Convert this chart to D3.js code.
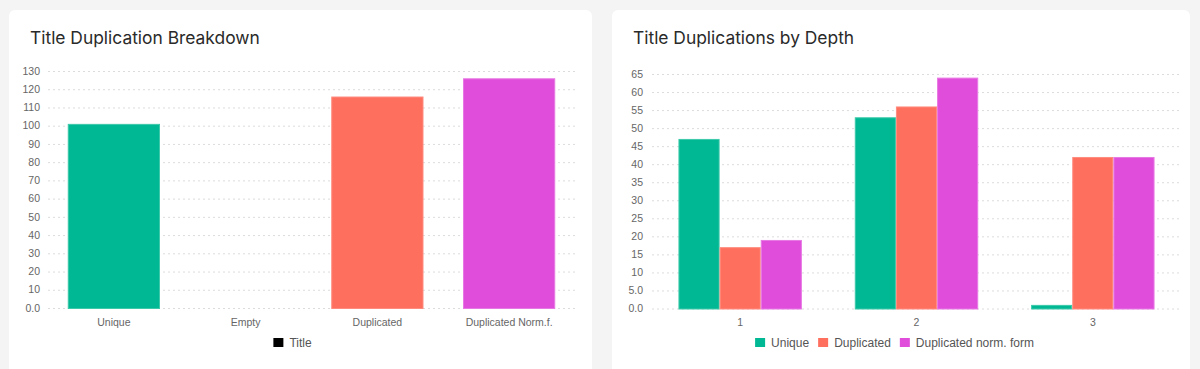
<!DOCTYPE html>
<html>
<head>
<meta charset="utf-8">
<script src="https://cdn.jsdelivr.net/npm/d3@7"></script>
<style>
	html, body { margin: 0; padding: 0; background: #f4f4f4; }
	svg { display: block; }
</style>
</head>
<body>
<div id="chart"></div>
<script>
// chart values
const breakdownLabels = ['Unique', 'Empty', 'Duplicated', 'Duplicated Norm.f.']
const breakdownValues = [101, 0, 116, 126]
const breakdownTicks = [0, 10, 20, 30, 40, 50, 60, 70, 80, 90, 100, 110, 120, 130]

const depths = ['1', '2', '3']
const uniqueByDepth = [47, 53, 1]
const duplicatedByDepth = [17, 56, 42]
const normFormByDepth = [19, 64, 42]
const depthSeries = ['Unique', 'Duplicated', 'Duplicated norm. form']
const depthTicks = [0, 5, 10, 15, 20, 25, 30, 35, 40, 45, 50, 55, 60, 65]

const colors = ['#00b894', '#ff6f5e', '#e04ddb']
const borders = ['#3cc9a9', '#ff8b7e', '#e779e3']
const tickFmt = v => v === 0 ? '0.0' : (v < 10 ? v.toFixed(1) : String(v))
const axisFont = 'Liberation Sans, Arial, sans-serif'

const W = 1200, H = 369
const svg = d3.select('#chart').append('svg')
	.attr('width', W).attr('height', H)

// cards
svg.append('rect').attr('x', 9).attr('y', 10).attr('width', 583).attr('height', 400)
	.attr('rx', 6).attr('fill', '#fff')
svg.append('rect').attr('x', 612).attr('y', 10).attr('width', 578).attr('height', 400)
	.attr('rx', 6).attr('fill', '#fff')

function title(x, text) {
	svg.append('text')
		.attr('x', x).attr('y', 44)
		.attr('font-family', 'Inter, sans-serif')
		.attr('font-size', 17.4)
		.attr('fill', '#2a2a2a')
		.text(text)
}
title(30, 'Title Duplication Breakdown')
title(633, 'Title Duplications by Depth')

function yGrid(yScale, ticks, x0, x1, labelX) {
	const g = svg.append('g')
	g.selectAll('line').data(ticks).join('line')
		.attr('x1', x0).attr('x2', x1)
		.attr('y1', d => yScale(d) + 0.5).attr('y2', d => yScale(d) + 0.5)
		.attr('stroke', '#dcdcdc')
		.attr('stroke-dasharray', '2,3')
	g.selectAll('text').data(ticks).join('text')
		.attr('x', labelX).attr('y', d => yScale(d))
		.attr('dy', '0.35em')
		.attr('text-anchor', 'end')
		.attr('font-family', axisFont)
		.attr('font-size', 10.5)
		.attr('fill', '#666')
		.text(tickFmt)
}

function xLabels(xScale, labels) {
	svg.append('g').selectAll('text').data(labels).join('text')
		.attr('x', d => xScale(d) + xScale.bandwidth() / 2)
		.attr('y', 322).attr('dy', '0.35em')
		.attr('text-anchor', 'middle')
		.attr('font-family', axisFont)
		.attr('font-size', 10.5)
		.attr('fill', '#666')
		.text(d => d)
}

function legend(cx, items) {
	const g = svg.append('g')
	let x = 0
	items.forEach(it => {
		g.append('rect').attr('x', x).attr('y', 338).attr('width', 10).attr('height', 9)
			.attr('fill', it.color)
		const t = g.append('text').attr('x', x + 16).attr('y', 342.5).attr('dy', '0.35em')
			.attr('font-family', axisFont).attr('font-size', 12).attr('fill', '#555')
			.text(it.label)
		x += 16 + t.node().getComputedTextLength() + 9
	})
	const w = x - 9
	g.attr('transform', `translate(${cx - w / 2},0)`)
}

// left chart: breakdown
const x1 = d3.scaleBand().domain(breakdownLabels).range([48, 575]).paddingInner(0.3).paddingOuter(0.15)
const y1 = d3.scaleLinear().domain([0, 130]).range([308, 71])
yGrid(y1, breakdownTicks, 48, 575, 40)
svg.append('g').selectAll('rect')
	.data(breakdownLabels.map((l, i) => ({ label: l, value: breakdownValues[i], c: i === 3 ? 2 : (i === 2 ? 1 : 0) })))
	.join('rect')
	.filter(d => d.value > 0)
	.attr('x', d => x1(d.label) + 0.5)
	.attr('y', d => y1(d.value) + 0.5)
	.attr('width', x1.bandwidth() - 1)
	.attr('height', d => y1(0) - y1(d.value))
	.attr('fill', d => colors[d.c])
	.attr('stroke', d => borders[d.c])
xLabels(x1, breakdownLabels)
legend(292.5, [{ label: 'Title', color: '#000' }])

// right chart: by depth
const x2 = d3.scaleBand().domain(depths).range([652, 1181]).paddingInner(0.3).paddingOuter(0.15)
const xs = d3.scaleBand().domain(depthSeries).range([0, x2.bandwidth()])
const y2 = d3.scaleLinear().domain([0, 65]).range([308.5, 74])
yGrid(y2, depthTicks, 652, 1181, 643)
const seriesValues = [uniqueByDepth, duplicatedByDepth, normFormByDepth]
const groups = svg.append('g').selectAll('g').data(depths).join('g')
	.attr('transform', d => `translate(${x2(d)},0)`)
groups.selectAll('rect')
	.data((d, i) => depthSeries.map((s, j) => ({ s, j, value: seriesValues[j][i] })))
	.join('rect')
	.attr('x', d => xs(d.s) + 0.5)
	.attr('y', d => y2(d.value) + 0.5)
	.attr('width', xs.bandwidth() - 1)
	.attr('height', d => Math.max(0, y2(0) - y2(d.value)))
	.attr('fill', d => colors[d.j])
	.attr('stroke', d => borders[d.j])
xLabels(x2, depths)
legend(894.5, depthSeries.map((s, j) => ({ label: s, color: colors[j] })))
</script>
</body>
</html>
